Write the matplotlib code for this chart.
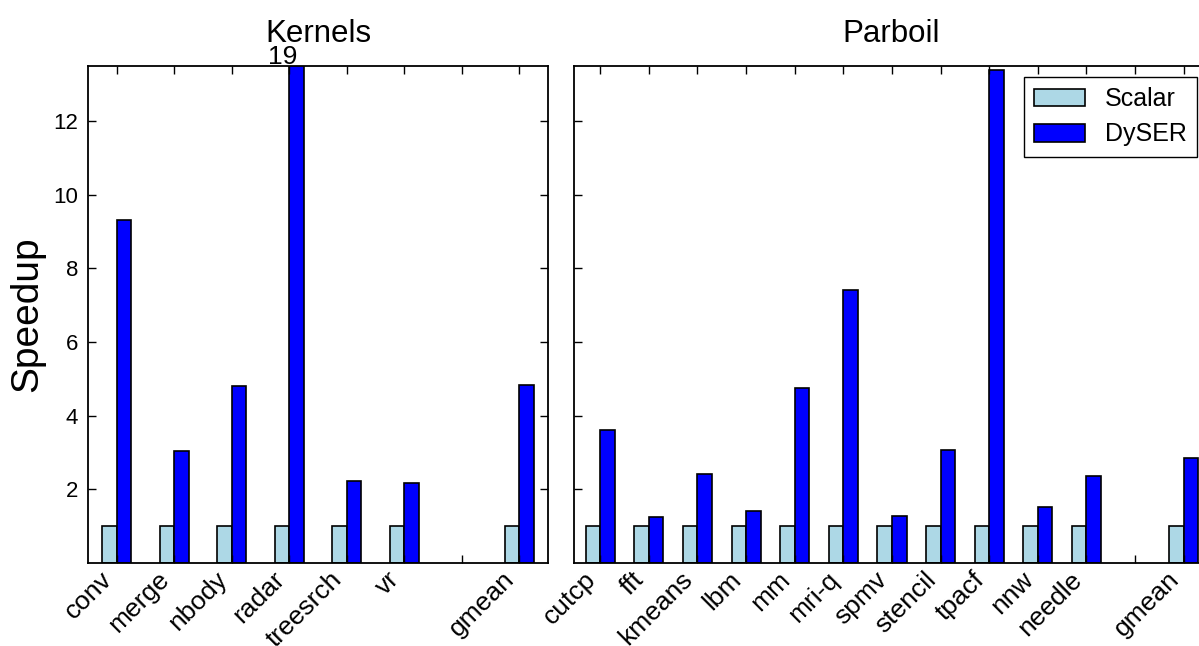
import matplotlib
matplotlib.use("Agg")
import matplotlib.pyplot as plt
import numpy as np

plt.rcParams["font.family"] = ["Liberation Sans", "DejaVu Sans"]

# Kernels panel (empty slot before gmean)
kernel_names = ["conv", "merge", "nbody", "radar", "treesrch", "vr", "", "gmean"]
kernel_scalar = [1, 1, 1, 1, 1, 1, None, 1]
kernel_dyser = [9.33, 3.05, 4.80, 19.0, 2.23, 2.17, None, 4.83]

# Parboil panel
parboil_names = ["cutcp", "fft", "kmeans", "lbm", "mm", "mri-q", "spmv",
                 "stencil", "tpacf", "nnw", "needle", "", "gmean"]
parboil_scalar = [1, 1, 1, 1, 1, 1, 1, 1, 1, 1, 1, None, 1]
parboil_dyser = [3.61, 1.25, 2.42, 1.40, 4.76, 7.41, 1.27, 3.07, 13.38,
                 1.53, 2.35, None, 2.85]

YMAX = 13.5
SCALAR_COLOR = "#add8e6"
DYSER_COLOR = "#0000ff"

fig = plt.figure(figsize=(11.99, 6.46), dpi=100)
W, H = 1199.0, 646.0
ax1 = fig.add_axes([88 / W, (H - 563) / H, 460 / W, 497 / H])
ax2 = fig.add_axes([574 / W, (H - 563) / H, 634 / W, 497 / H], sharey=ax1)


def draw_panel(ax, names, scalar, dyser, width, xlim):
    x = np.arange(len(names))
    idx = [i for i, v in enumerate(scalar) if v is not None]
    sx = np.array([x[i] for i in idx])
    sv = [scalar[i] for i in idx]
    dv = [dyser[i] for i in idx]
    ax.bar(sx - width / 2, sv, width, color=SCALAR_COLOR,
           edgecolor="black", linewidth=1.2, label="Scalar")
    ax.bar(sx + width / 2, dv, width, color=DYSER_COLOR,
           edgecolor="black", linewidth=1.2, label="DySER")
    ax.set_xticks(x)
    ax.set_xticklabels(names, rotation=45, ha="right")
    ax.set_xlim(*xlim)
    ax.set_ylim(0, YMAX)
    ax.set_yticks([2, 4, 6, 8, 10, 12])
    ax.tick_params(direction="in", top=True, right=True, length=6,
                   width=1, labelsize=16, pad=7)
    ax.tick_params(axis="x", pad=3, labelsize=19)
    for s in ax.spines.values():
        s.set_linewidth(1.3)
    # label bars that run past the top of the axis
    for xi, v in zip(sx + width / 2, dv):
        if v > YMAX:
            ax.annotate(f"{v:g}", (xi, YMAX), xytext=(-10, -2.5),
                        textcoords="offset points", ha="center",
                        va="bottom", fontsize=19, annotation_clip=False)


draw_panel(ax1, kernel_names, kernel_scalar, kernel_dyser, 0.25, (-0.5, 7.5))
draw_panel(ax2, parboil_names, parboil_scalar, parboil_dyser, 0.30,
           (-0.54, 12.5))
plt.setp(ax2.get_yticklabels(), visible=False)

ax1.set_title("Kernels", fontsize=22.5, pad=17)
ax2.set_title("Parboil", fontsize=22.5, pad=17)
ax1.set_ylabel("Speedup", fontsize=28, labelpad=6)

leg = ax2.legend(loc="upper right", fontsize=18, fancybox=False,
                 edgecolor="black", framealpha=1, borderaxespad=0.45,
                 borderpad=0.4, labelspacing=0.45, handlelength=2.05,
                 handleheight=0.72, handletextpad=0.8)
leg.get_frame().set_linewidth(1.0)

fig.savefig("out.png", dpi=100)
